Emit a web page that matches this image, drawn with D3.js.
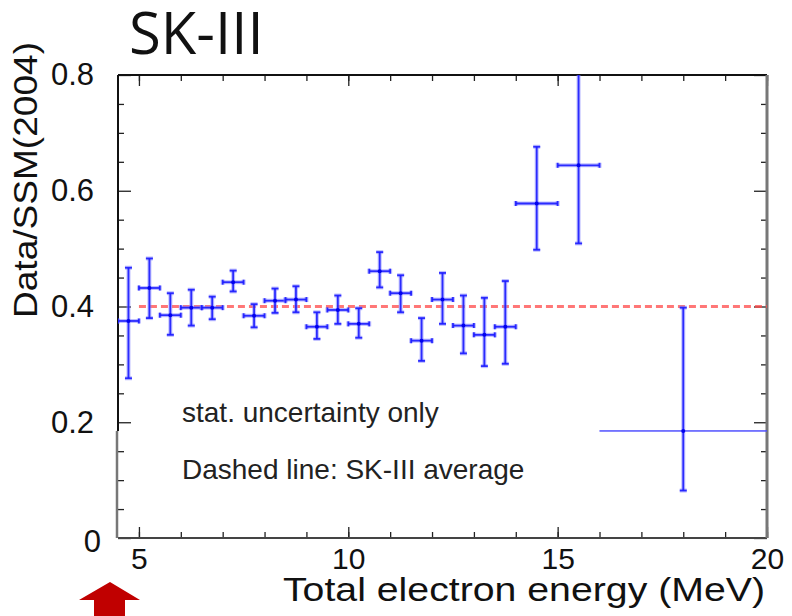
<!DOCTYPE html>
<html>
<head>
<meta charset="utf-8">
<script src="https://cdn.jsdelivr.net/npm/d3@7"></script>
<style>
  html, body { margin: 0; padding: 0; background: #fff; }
  svg { display: block; }
</style>
</head>
<body>
<svg id="chart" width="792" height="616"></svg>
<script>
// ---- data ----
const binLow  = [4.5, 5.0, 5.5, 6.0, 6.5, 7.0, 7.5, 8.0, 8.5, 9.0, 9.5, 10.0, 10.5, 11.0, 11.5, 12.0, 12.5, 13.0, 13.5, 14.0, 15.0, 16.0];
const binHigh = [5.0, 5.5, 6.0, 6.5, 7.0, 7.5, 8.0, 8.5, 9.0, 9.5, 10.0, 10.5, 11.0, 11.5, 12.0, 12.5, 13.0, 13.5, 14.0, 15.0, 16.0, 20.0];
const ratio   = [0.375, 0.432, 0.385, 0.398, 0.398, 0.442, 0.384, 0.410, 0.412, 0.365, 0.394, 0.370, 0.461, 0.423, 0.341, 0.412, 0.367, 0.351, 0.365, 0.578, 0.644, 0.185];
const errUp   = [0.092, 0.051, 0.038, 0.031, 0.019, 0.020, 0.020, 0.021, 0.023, 0.025, 0.025, 0.027, 0.033, 0.031, 0.039, 0.046, 0.052, 0.064, 0.079, 0.098, 0.160, 0.213];
const errDown = [0.099, 0.052, 0.034, 0.031, 0.020, 0.016, 0.020, 0.021, 0.022, 0.021, 0.024, 0.024, 0.028, 0.033, 0.035, 0.042, 0.048, 0.054, 0.064, 0.080, 0.135, 0.103];
const average = 0.40;
const averageFrom = 5.0;
const xTickValues = [5, 10, 15, 20];
const xMinorTicks = [5, 6, 7, 8, 9, 10, 11, 12, 13, 14, 15, 16, 17, 18, 19, 20];
const yTickValues = [0, 0.2, 0.4, 0.6, 0.8];
const yMinorTicks = [0.05, 0.1, 0.15, 0.25, 0.3, 0.35, 0.45, 0.5, 0.55, 0.65, 0.7, 0.75];
const titleText = "SK-III";
const xTitle = "Total electron energy (MeV)";
const yTitle = "Data/SSM(2004)";
const notes = ["stat. uncertainty only", "Dashed line: SK-III average"];

// ---- layout ----
const L = 118, R = 767, T = 75, B = 538;
const svg = d3.select("#chart");
const x = d3.scaleLinear().domain([4.5, 20]).range([L, R]);
const y = d3.scaleLinear().domain([0, 0.8]).range([B, T]);
const FONT = "'Liberation Sans', Arial, Helvetica, sans-serif";

svg.append("defs").append("clipPath").attr("id", "plotClip")
  .append("rect").attr("x", L).attr("y", T).attr("width", R - L).attr("height", B - T);

// title
svg.append("text").attr("x", 129).attr("y", 54)
  .attr("font-family", "'Open Sans', 'Noto Sans', sans-serif")
  .attr("font-size", 58).attr("fill", "#111").text(titleText);

// axes with inward ticks on all four sides
function styleAxis(g) {
  g.select(".domain").remove();
  g.selectAll(".tick line").attr("stroke", "#222").attr("stroke-width", 1.3);
}
// bottom major
svg.append("g").attr("transform", `translate(0,${B})`)
  .call(d3.axisBottom(x).tickValues(xTickValues).tickSize(-11).tickPadding(9).tickFormat(d3.format("d")))
  .call(styleAxis)
  .call(g => g.selectAll("text").attr("font-family", FONT).attr("font-size", 30).attr("fill", "#111").attr("dy", "0.72em"));
// bottom minor
svg.append("g").attr("transform", `translate(0,${B})`)
  .call(d3.axisBottom(x).tickValues(xMinorTicks).tickSize(-6).tickFormat(""))
  .call(styleAxis);
// top
svg.append("g").attr("transform", `translate(0,${T})`)
  .call(d3.axisTop(x).tickValues(xTickValues).tickSize(-11).tickFormat(""))
  .call(styleAxis);
svg.append("g").attr("transform", `translate(0,${T})`)
  .call(d3.axisTop(x).tickValues(xMinorTicks).tickSize(-6).tickFormat(""))
  .call(styleAxis);
// left
svg.append("g").attr("transform", `translate(${L},0)`)
  .call(d3.axisLeft(y).tickValues(yTickValues).tickSize(-13).tickPadding(24).tickFormat(d => d === 0 ? "0" : d3.format(".1f")(d)))
  .call(styleAxis)
  .call(g => g.selectAll("text").attr("font-family", FONT).attr("font-size", 31).attr("fill", "#111"))
  .call(g => g.selectAll(".tick").filter(d => d === 0).select("text").attr("x", -17).attr("dy", "0.42em"));
svg.append("g").attr("transform", `translate(${L},0)`)
  .call(d3.axisLeft(y).tickValues(yMinorTicks).tickSize(-6).tickFormat(""))
  .call(styleAxis);
// right
svg.append("g").attr("transform", `translate(${R},0)`)
  .call(d3.axisRight(y).tickValues(yTickValues).tickSize(-13).tickFormat(""))
  .call(styleAxis);
svg.append("g").attr("transform", `translate(${R},0)`)
  .call(d3.axisRight(y).tickValues(yMinorTicks).tickSize(-6).tickFormat(""))
  .call(styleAxis);

// frame
svg.append("line").attr("x1", L).attr("x2", R).attr("y1", T).attr("y2", T).attr("stroke", "#111").attr("stroke-width", 2);
svg.append("line").attr("x1", L).attr("x2", R).attr("y1", B).attr("y2", B).attr("stroke", "#444").attr("stroke-width", 2);
svg.append("line").attr("x1", L).attr("x2", L).attr("y1", T).attr("y2", y(0.185)).attr("stroke", "#111").attr("stroke-width", 2);
svg.append("line").attr("x1", L - 1).attr("x2", L - 1).attr("y1", y(0.185)).attr("y2", B).attr("stroke", "#777").attr("stroke-width", 2.5);
svg.append("line").attr("x1", R).attr("x2", R).attr("y1", T).attr("y2", B).attr("stroke", "#777").attr("stroke-width", 3);

// dashed average line
svg.append("line")
  .attr("x1", x(averageFrom)).attr("x2", x(20)).attr("y1", y(average)).attr("y2", y(average))
  .attr("stroke", "#ff4a4a").attr("stroke-width", 3).attr("stroke-dasharray", "7,4").attr("opacity", 0.75);

// data error bars
const pts = ratio.map((v, i) => ({
  x0: binLow[i], x1: binHigh[i], xc: (binLow[i] + binHigh[i]) / 2,
  v, lo: v - errDown[i], hi: v + errUp[i], wide: binHigh[i] - binLow[i] > 2
}));
const plot = svg.append("g").attr("clip-path", "url(#plotClip)");
const gp = plot.selectAll("g.pt").data(pts).join("g").attr("class", "pt");

function drawBars(sel, color, w, op) {
  // vertical
  sel.append("line").attr("x1", d => x(d.xc)).attr("x2", d => x(d.xc))
    .attr("y1", d => y(d.lo)).attr("y2", d => y(d.hi))
    .attr("stroke", color).attr("stroke-width", w).attr("opacity", op);
  // horizontal
  sel.append("line").attr("x1", d => x(d.x0)).attr("x2", d => x(d.x1))
    .attr("y1", d => y(d.v)).attr("y2", d => y(d.v))
    .attr("stroke", color).attr("stroke-width", d => d.wide ? w * 0.5 : w).attr("opacity", op);
  // caps on vertical
  ["lo", "hi"].forEach(k => {
    sel.append("line").attr("x1", d => x(d.xc) - 3.5).attr("x2", d => x(d.xc) + 3.5)
      .attr("y1", d => y(d[k])).attr("y2", d => y(d[k]))
      .attr("stroke", color).attr("stroke-width", w).attr("opacity", op);
  });
  // caps on horizontal
  ["x0", "x1"].forEach(k => {
    sel.filter(d => !d.wide).append("line").attr("x1", d => x(d[k])).attr("x2", d => x(d[k]))
      .attr("y1", d => y(d.v) - 2.5).attr("y2", d => y(d.v) + 2.5)
      .attr("stroke", color).attr("stroke-width", w).attr("opacity", op);
  });
}
drawBars(gp, "#8a8aff", 4, 0.55);
drawBars(gp, "#1c1cff", 1.8, 0.9);
gp.append("circle").attr("cx", d => x(d.xc)).attr("cy", d => y(d.v)).attr("r", 2).attr("fill", "#0000ee");

// notes
notes.forEach((t, i) => {
  svg.append("text").attr("x", 182).attr("y", 422 + i * 57)
    .attr("font-family", FONT).attr("font-size", 28).attr("fill", "#222").text(t);
});

// axis titles
svg.append("text").attr("x", 283).attr("y", 601)
  .attr("font-family", FONT).attr("font-size", 34).attr("fill", "#111")
  .attr("textLength", 482).attr("lengthAdjust", "spacingAndGlyphs").text(xTitle);
svg.append("text").attr("transform", "translate(37,318) rotate(-90)")
  .attr("font-family", FONT).attr("font-size", 34).attr("fill", "#111")
  .attr("textLength", 276).attr("lengthAdjust", "spacingAndGlyphs").text(yTitle);

// red threshold arrow (annotation)
const arrow = [[110, 582], [140, 600], [125, 600], [125, 616], [94, 616], [94, 600], [79, 600]];
svg.append("polygon").attr("points", arrow.map(p => p.join(",")).join(" ")).attr("fill", "#c00000");
</script>
</body>
</html>
